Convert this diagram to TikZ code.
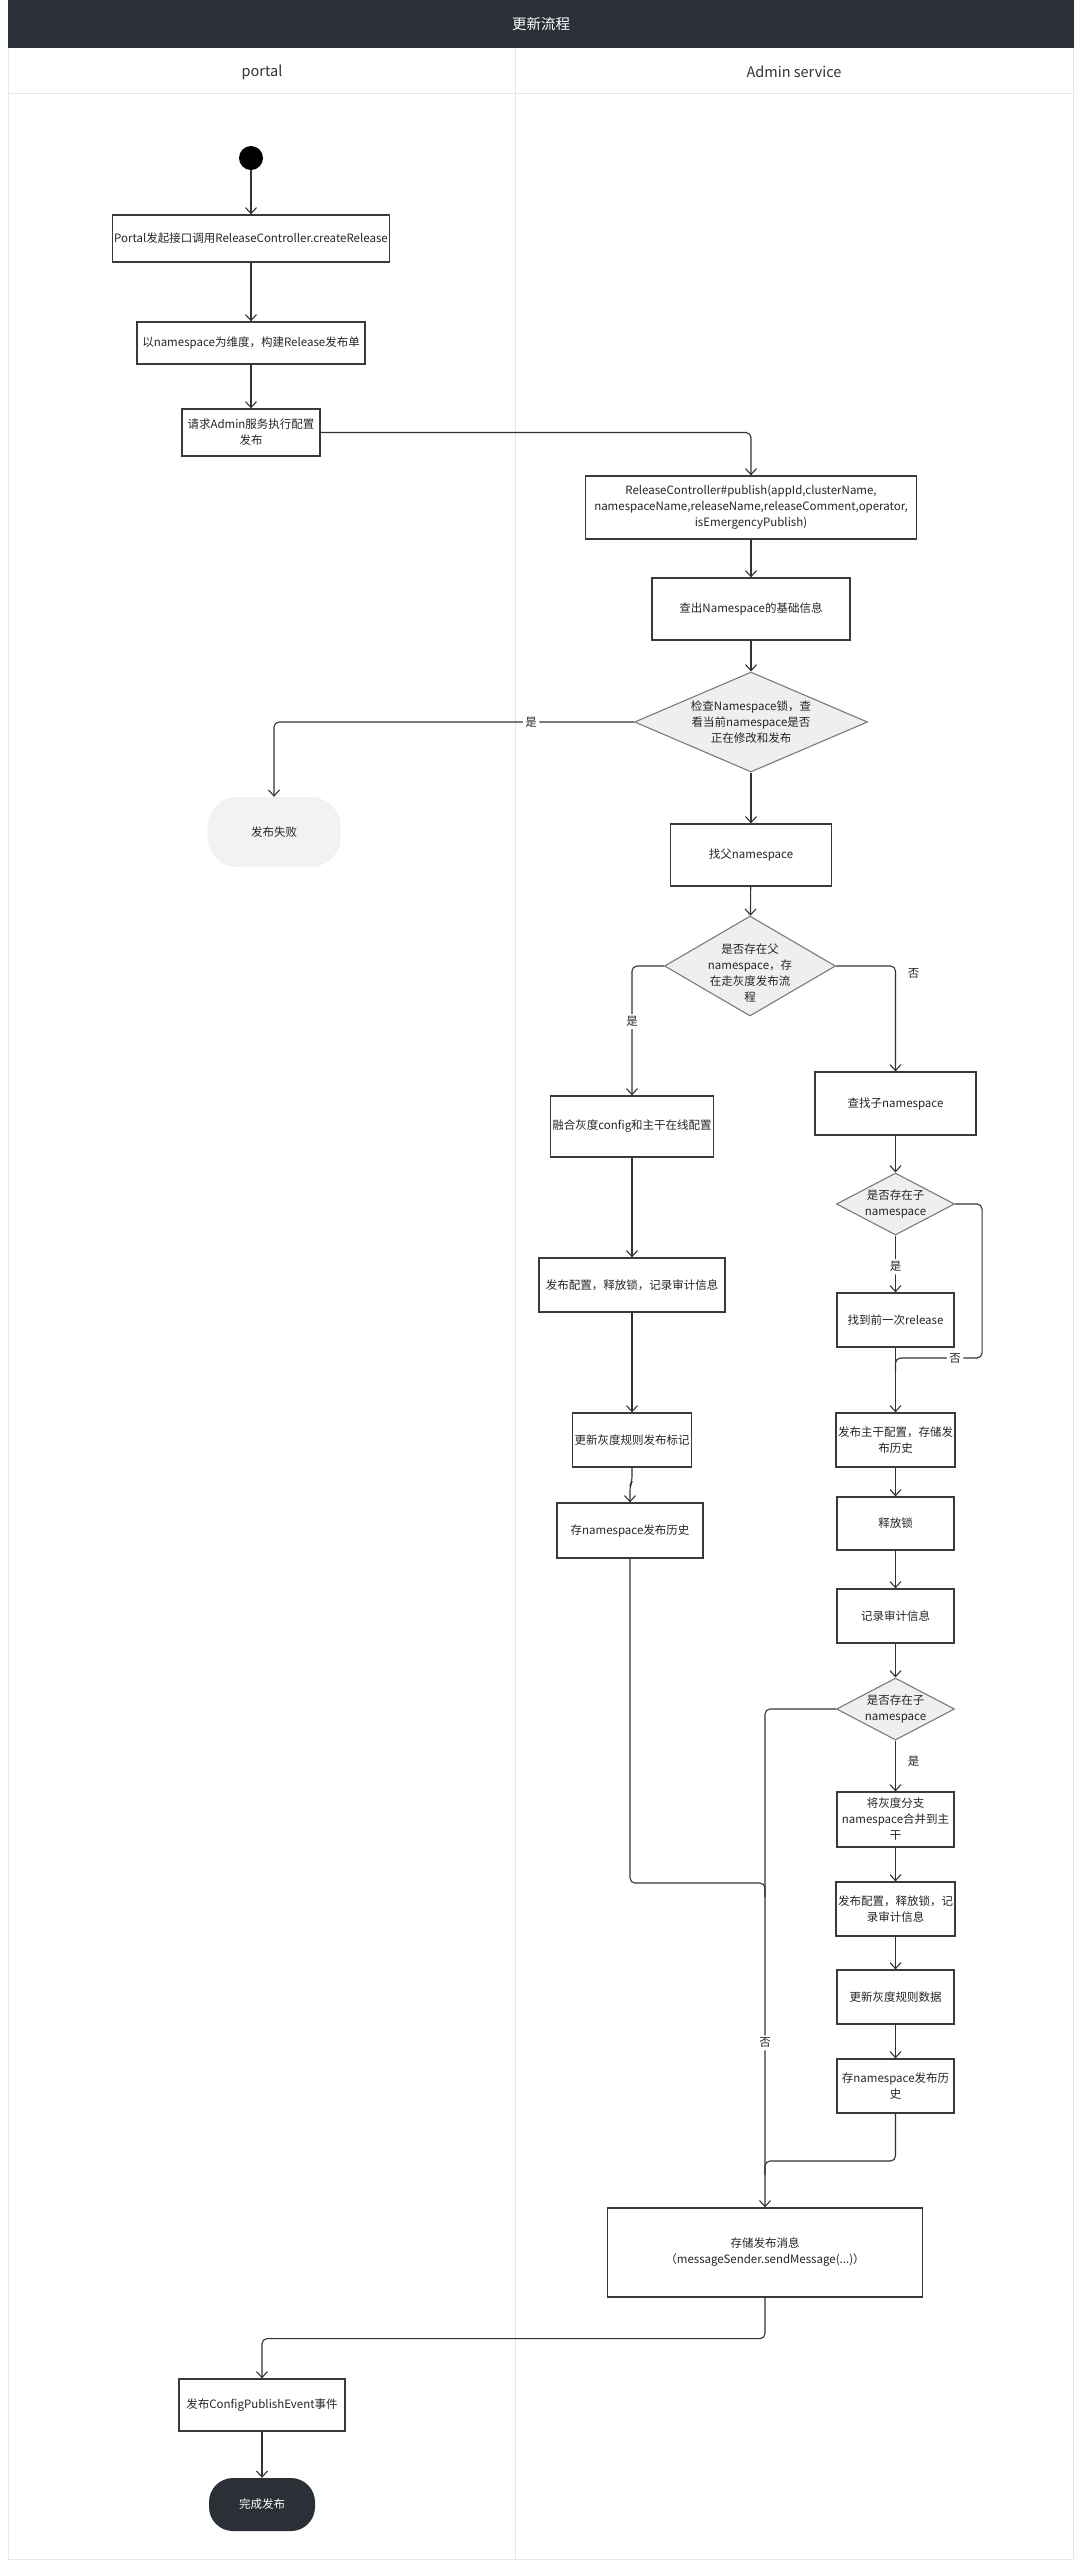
\documentclass[tikz,border=0pt]{standalone}
\usepackage{fontspec}
\setmainfont{Noto Sans CJK SC}
\usetikzlibrary{arrows.meta,shapes.geometric,calc}
\definecolor{barc}{HTML}{2B2F38}
\definecolor{boxc}{HTML}{3A3A3A}
\definecolor{linec}{HTML}{333333}
\definecolor{txt}{HTML}{262626}
\definecolor{lanec}{HTML}{E6E6E6}
\definecolor{diaf}{HTML}{EEEFF1}
\definecolor{diad}{HTML}{7A7A7A}
\definecolor{failf}{HTML}{F1F2F4}
\definecolor{endf}{HTML}{2B2F36}
\newcommand\myfs{\fontsize{11.5}{16}\selectfont}
\newcommand\myhfs{\fontsize{14.5}{18}\selectfont}
\begin{document}
\begin{tikzpicture}[x=1pt,y=-1pt,
  box/.style={draw=boxc, line width=1.3pt, fill=white, align=center, font=\myfs, text=txt, inner sep=2pt},
  dia/.style={diamond, draw=diad, line width=1.1pt, fill=diaf, inner sep=0pt, aspect=1},
  dlbl/.style={align=center, font=\myfs, text=txt},
  conn/.style={draw=linec, line width=1.1pt, rounded corners=5pt, -{Straight Barb[length=6pt,width=11pt]}},
  plain/.style={draw=linec, line width=1.1pt, rounded corners=5pt},
  lbl/.style={fill=white, inner sep=2.5pt, font=\myfs, text=txt}]
\useasboundingbox (0,0) rectangle (1082,2560);
\fill[white] (0,0) rectangle (1082,2560);
% frame and lanes
\fill[barc] (8,0) rectangle (1074,48);
\node[text=white, font=\myhfs] (title) at (541,24) {更新流程};
\draw[lanec, line width=1pt] (8,48) -- (8,2559) -- (1073,2559) -- (1073,48);
\draw[lanec, line width=1pt] (8,93) -- (1073,93);
\draw[lanec, line width=1pt] (515,48) -- (515,2559);
\node[text=linec, font=\myhfs] (lane1) at (262,72) {portal};
\node[text=linec, font=\myhfs] (lane2) at (794,72) {Admin service};

% portal column
\node[circle, fill=black, minimum size=24pt, inner sep=0pt] (start) at (251,158) {};
\node[box, minimum width=268pt, minimum height=47pt] (b1) at (251,238.5) {Portal发起接口调用ReleaseController.createRelease};
\node[box, minimum width=228pt, minimum height=42pt] (b2) at (251,343) {以namespace为维度，构建Release发布单};
\node[box, minimum width=138pt, minimum height=47pt] (b3) at (251,432.5) {请求Admin服务执行配置\\发布};
\node[rounded corners=30pt, fill=failf, minimum width=133pt, minimum height=70pt, font=\myfs, text=txt] (fail) at (274,832) {发布失败};

% admin main column
\node[box, minimum width=331pt, minimum height=63pt] (b4) at (751,507.5) {ReleaseController\#publish(appId,clusterName,\\namespaceName,releaseName,releaseComment,operator,\\isEmergencyPublish)};
\node[box, minimum width=198pt, minimum height=62pt] (b5) at (751,609) {查出Namespace的基础信息};
\node[dia, minimum width=233pt, minimum height=100pt, label={[dlbl]center:{检查Namespace锁，查\\看当前namespace是否\\正在修改和发布}}] (d1) at (751,722) {};
\node[box, minimum width=161pt, minimum height=62pt] (b6) at (751,855) {找父namespace};
\node[dia, minimum width=171pt, minimum height=100pt, label={[dlbl, yshift=-7pt]center:{是否存在父\\namespace，存\\在走灰度发布流\\程}}] (d2) at (750,966) {};

% left branch (gray release)
\node[box, minimum width=161pt, minimum height=61pt] (g1) at (632,1126.5) {融合灰度config和主干在线配置};
\node[box, minimum width=186pt, minimum height=54pt] (g2) at (632,1285) {发布配置，释放锁，记录审计信息};
\node[box, minimum width=118pt, minimum height=54pt] (g3) at (632,1440) {更新灰度规则发布标记};
\node[box, minimum width=146pt, minimum height=55pt] (g4) at (630,1530.5) {存namespace发布历史};

% right branch
\node[box, minimum width=161pt, minimum height=63pt] (r1) at (895.5,1103.5) {查找子namespace};
\node[dia, minimum width=118pt, minimum height=62pt, label={[dlbl]center:{是否存在子\\namespace}}] (d3) at (895.5,1204) {};
\node[box, minimum width=117pt, minimum height=54pt] (r2) at (895.5,1320) {找到前一次release};
\node[box, minimum width=117pt, minimum height=54pt] (r3) at (895.5,1440) {发布主干配置，存储发\\布历史};
\node[box, minimum width=117pt, minimum height=53pt] (r4) at (895.5,1523.5) {释放锁};
\node[box, minimum width=117pt, minimum height=54pt] (r5) at (895.5,1616) {记录审计信息};
\node[dia, minimum width=118pt, minimum height=62pt, label={[dlbl]center:{是否存在子\\namespace}}] (d4) at (895.5,1709) {};
\node[box, minimum width=117pt, minimum height=55pt] (r6) at (895.5,1819.5) {将灰度分支\\namespace合并到主\\干};
\node[box, minimum width=117pt, minimum height=54pt] (r7) at (895.5,1909) {发布配置，释放锁，记\\录审计信息};
\node[box, minimum width=117pt, minimum height=54pt] (r8) at (895.5,1997) {更新灰度规则数据};
\node[box, minimum width=117pt, minimum height=54pt] (r9) at (895.5,2086) {存namespace发布历\\史};

% message and end
\node[box, minimum width=315pt, minimum height=89pt] (msg) at (765,2252.5) {存储发布消息\\（messageSender.sendMessage(...)）};
\node[box, minimum width=166pt, minimum height=52pt] (b17) at (262,2405) {发布ConfigPublishEvent事件};
\node[rounded corners=24pt, fill=endf, minimum width=106pt, minimum height=53pt, font=\myfs, text=white] (done) at (262,2504.5) {完成发布};

\coordinate (j1) at (895.5,1358);
\coordinate (j2) at (765,1883);
\coordinate (j3) at (765,2161);

% connectors
\draw[conn] (start) -- (b1);
\draw[conn] (b1) -- (b2);
\draw[conn] (b2) -- (b3);
\draw[conn] (b3.east) -| (b4.north);
\draw[conn] (b4) -- (b5);
\draw[conn] (b5) -- (d1);
\draw[conn] (d1.west) -- node[lbl, pos=0.286]{是} (d1.west -| fail.north) -- (fail.north);
\draw[conn] (d1) -- (b6);
\draw[conn] (b6) -- (d2);
\draw[conn] (d2.west) -- (d2.west -| g1.north) -- node[lbl, pos=0.43]{是} (g1.north);
\draw[conn] (d2.east) -- (d2.east -| r1.north) -- node[pos=0.066, xshift=18pt, font=\myfs, text=txt]{否} (r1.north);
\draw[conn] (g1) -- (g2);
\draw[conn] (g2) -- (g3);
\draw[conn] (g3.south) -- ++(0,14) -- ++(-2,4) -- (g4.north);
\draw[plain] (g4.south) |- (j2) -- ++(0,14);
\draw[conn] (r1) -- (d3);
\draw[conn] (d3) -- node[lbl, pos=0.55]{是} (r2);
\draw[plain] (d3.east) -- ++(27,0) |- node[lbl, pos=0.655]{否} (j1) -- ++(0,14);
\draw[conn] (r2) -- (r3);
\draw[conn] (r3) -- (r4);
\draw[conn] (r4) -- (r5);
\draw[conn] (r5) -- (d4);
\draw[conn] (d4) -- node[pos=0.4, xshift=18pt, font=\myfs, text=txt]{是} (r6);
\draw[conn] (r6) -- (r7);
\draw[conn] (r7) -- (r8);
\draw[conn] (r8) -- (r9);
\draw[plain] (r9.south) |- (j3) -- ++(0,14);
\draw[conn] (d4.west) -| node[lbl, pos=0.835]{否} (msg.north);
\draw[conn] (msg.south) -- ++(0,41) -| (b17.north);
\draw[conn] (b17) -- (done);
\end{tikzpicture}
\end{document}
